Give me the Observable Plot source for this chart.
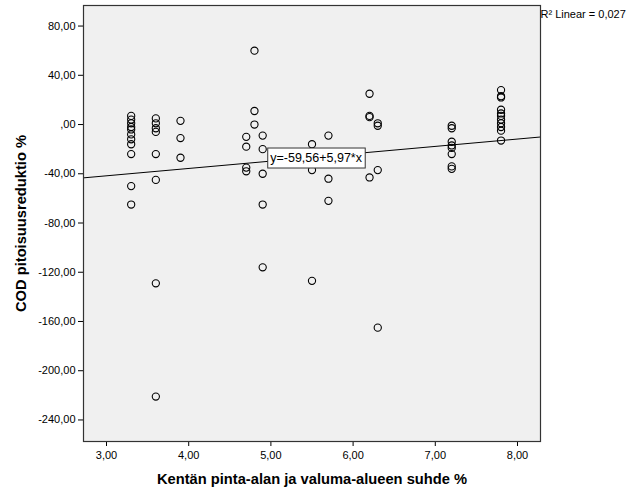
<!DOCTYPE html>
<html>
<head>
<meta charset="utf-8">
<script src="https://cdn.jsdelivr.net/npm/d3@7"></script>
<script src="https://cdn.jsdelivr.net/npm/@observablehq/plot@0.6"></script>
<style>
  html, body { margin: 0; padding: 0; background: #ffffff; }
  #chart { width: 626px; height: 501px; }
</style>
</head>
<body>
<div id="chart"></div>
<script>
// ---- data ----
const ratioPct = [
  3.3,3.3,3.3,3.3,3.3,3.3,3.3,3.3,3.3,3.3,3.3,
  3.6,3.6,3.6,3.6,3.6,3.6,3.6,3.6,
  3.9,3.9,3.9,
  4.7,4.7,4.7,4.7,
  4.8,4.8,4.8,
  4.9,4.9,4.9,4.9,4.9,
  5.5,5.5,5.5,
  5.7,5.7,5.7,
  6.2,6.2,6.2,6.2,
  6.3,6.3,6.3,6.3,
  7.2,7.2,7.2,7.2,7.2,7.2,7.2,7.2,
  7.8,7.8,7.8,7.8,7.8,7.8,7.8,7.8,7.8,7.8,7.8
];
const codPct = [
  7,4,1,-2,-4,-8,-12,-16,-24,-50,-65,
  5,1,-3,-6,-24,-45,-129,-221,
  3,-11,-27,
  -10,-18,-35,-38,
  60,11,0,
  -9,-20,-40,-65,-116,
  -16,-37,-127,
  -9,-44,-62,
  25,7,6,-43,
  1,-1,-37,-165,
  -1,-3,-14,-17,-19,-24,-34,-36,
  28,23,22,12,9,7,4,1,-2,-5,-13
];
const xTicks = [3, 4, 5, 6, 7, 8];
const yTicks = [80, 40, 0, -40, -80, -120, -160, -200, -240];
const xDomain = [2.72, 8.28];
const yDomain = [-257.5, 96.7];
const fitIntercept = -59.56;
const fitSlope = 5.97;
const fitLabel = "y=-59,56+5,97*x";
const fitLabelPos = [5.55, -27.2];
const r2Label = "R² Linear = 0,027";
const xTitle = "Kentän pinta-alan ja valuma-alueen suhde %";
const yTitle = "COD pitoisuusreduktio %";

// ---- build ----
const points = ratioPct.map((x, i) => ({x, y: codPct[i]}));
const fitLine = xDomain.map(x => ({x, y: fitIntercept + fitSlope * x}));
const fmt = d => d.toFixed(2).replace(".", ",").replace(/^(-?)0,/, "$1,");

const font = "Arial, 'Liberation Sans', sans-serif";

const chart = Plot.plot({
  width: 626,
  height: 501,
  marginLeft: 83,
  marginRight: 86,
  marginTop: 5,
  marginBottom: 60,
  style: {fontFamily: font, fontSize: "11px", background: "#ffffff", color: "#000"},
  x: {domain: xDomain},
  y: {domain: yDomain},
  marks: [
    Plot.frame({fill: "#F0F0F0", stroke: null}),
    Plot.axisX({ticks: xTicks, tickFormat: fmt, tickSize: 5, tickPadding: 5, label: null, fontSize: 11, stroke: "#000"}),
    Plot.axisY({ticks: yTicks, tickFormat: fmt, tickSize: 5, tickPadding: 3, label: null, fontSize: 11, stroke: "#000"}),
    Plot.line(fitLine, {x: "x", y: "y", stroke: "#000", strokeWidth: 1}),
    Plot.dot(points, {x: "x", y: "y", r: 3.6, stroke: "#000", strokeWidth: 1.1, fill: "none"}),
    Plot.text([fitLabel], {x: () => fitLabelPos[0], y: () => fitLabelPos[1], text: d => d, fontSize: 12.5, fill: "#000", textAnchor: "middle", lineAnchor: "middle"}),
    Plot.frame({stroke: "#333", strokeWidth: 1.2}),
    Plot.text([r2Label], {frameAnchor: "top-right", text: d => d, dx: 0, dy: 9, textAnchor: "start", lineAnchor: "middle", fontSize: 11, fill: "#000"}),
    Plot.text([xTitle], {frameAnchor: "bottom", text: d => d, dy: 38, fontSize: 14.7, fontWeight: "bold", fill: "#000", textAnchor: "middle", lineAnchor: "middle"}),
    Plot.text([yTitle], {frameAnchor: "left", text: d => d, dx: -62, rotate: -90, fontSize: 14.7, fontWeight: "bold", fill: "#000", textAnchor: "middle", lineAnchor: "middle"})
  ]
});

document.getElementById("chart").appendChild(chart);

// white label box behind the fit equation
for (const t of chart.querySelectorAll("text")) {
  if (t.textContent === fitLabel) {
    const b = t.getBBox();
    const padX = 2.5, padY = 3;
    const rect = document.createElementNS("http://www.w3.org/2000/svg", "rect");
    rect.setAttribute("x", b.x - padX);
    rect.setAttribute("y", b.y - padY);
    rect.setAttribute("width", b.width + 2 * padX);
    rect.setAttribute("height", b.height + 2 * padY);
    rect.setAttribute("fill", "#ffffff");
    rect.setAttribute("stroke", "#333");
    rect.setAttribute("stroke-width", "1");
    const tr = t.getAttribute("transform");
    if (tr) rect.setAttribute("transform", tr);
    t.parentNode.insertBefore(rect, t);
  }
}
</script>
</body>
</html>
